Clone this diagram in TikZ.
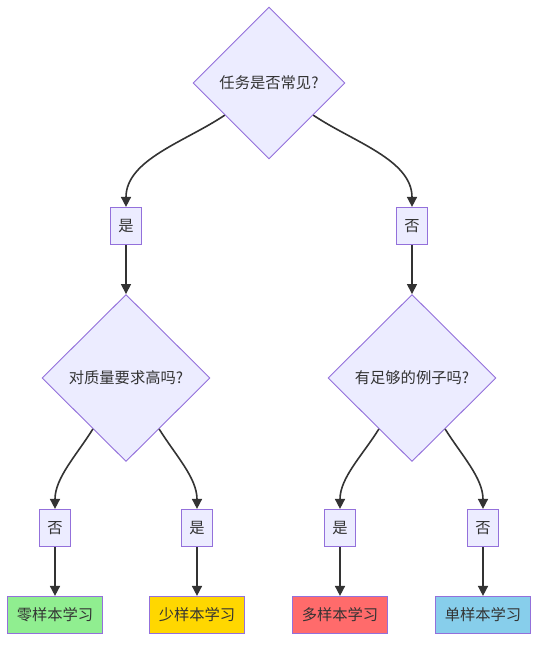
\documentclass[tikz,border=0pt]{standalone}
\usepackage{fontspec}
\setmainfont{Noto Sans CJK SC}
\usetikzlibrary{shapes.geometric,arrows.meta}
\definecolor{nodefill}{HTML}{ECECFF}
\definecolor{nodeline}{HTML}{9370DB}
\definecolor{edgecol}{HTML}{333333}
\definecolor{txtcol}{HTML}{333333}
\definecolor{cgreen}{HTML}{90EE90}
\definecolor{cgold}{HTML}{FFD700}
\definecolor{cred}{HTML}{FF6B6B}
\definecolor{csky}{HTML}{87CEEB}
\begin{document}
\begin{tikzpicture}[x=1pt,y=-1pt,
  every node/.style={font=\fontsize{15.3}{18}\selectfont, text=txtcol},
  diam/.style={diamond, draw=nodeline, fill=nodefill, line width=0.9pt, inner sep=0pt, aspect=1},
  lbl/.style={rectangle, draw=nodeline, fill=nodefill, line width=1.2pt, minimum width=31pt, minimum height=37pt, inner sep=0pt},
  leaf/.style={rectangle, draw=nodeline, line width=1.2pt, minimum width=95pt, minimum height=37pt, inner sep=0pt},
  edge/.style={draw=edgecol, line width=1.6pt, -{Triangle[length=10pt,width=10pt]}}
]
\useasboundingbox (0,0) rectangle (546,651);
\fill[white] (0,0) rectangle (546,651);

\node[diam, minimum width=152pt, minimum height=152pt] (q1) at (269,83) {任务是否常见?};
\node[lbl] (yes1) at (126,226) {是};
\node[lbl] (no1) at (412,226) {否};
\node[diam, minimum width=168pt, minimum height=167pt] (q2) at (126,378) {对质量要求高吗?};
\node[diam, minimum width=168pt, minimum height=167pt] (q3) at (412,378) {有足够的例子吗?};
\node[lbl] (no2) at (55,528) {否};
\node[lbl] (yes2) at (197,528) {是};
\node[lbl] (yes3) at (340,528) {是};
\node[lbl] (no3) at (483,528) {否};
\node[leaf, fill=cgreen] (zero) at (55,615) {零样本学习};
\node[leaf, fill=cgold] (few) at (197,615) {少样本学习};
\node[leaf, fill=cred] (many) at (340,615) {多样本学习};
\node[leaf, fill=csky] (one) at (483,615) {单样本学习};

\draw[edge] (q1.216) to[out=214,in=90,looseness=0.9] (yes1.north);
\draw[edge] (q1.324) to[out=326,in=90,looseness=0.9] (no1.north);
\draw[edge] (yes1) -- (q2.north);
\draw[edge] (no1) -- (q3.north);
\draw[edge] (q2.237) to[out=238,in=90,looseness=0.9] (no2.north);
\draw[edge] (q2.303) to[out=302,in=90,looseness=0.9] (yes2.north);
\draw[edge] (q3.237) to[out=238,in=90,looseness=0.9] (yes3.north);
\draw[edge] (q3.303) to[out=302,in=90,looseness=0.9] (no3.north);
\draw[edge] (no2) -- (zero);
\draw[edge] (yes2) -- (few);
\draw[edge] (yes3) -- (many);
\draw[edge] (no3) -- (one);
\end{tikzpicture}
\end{document}
